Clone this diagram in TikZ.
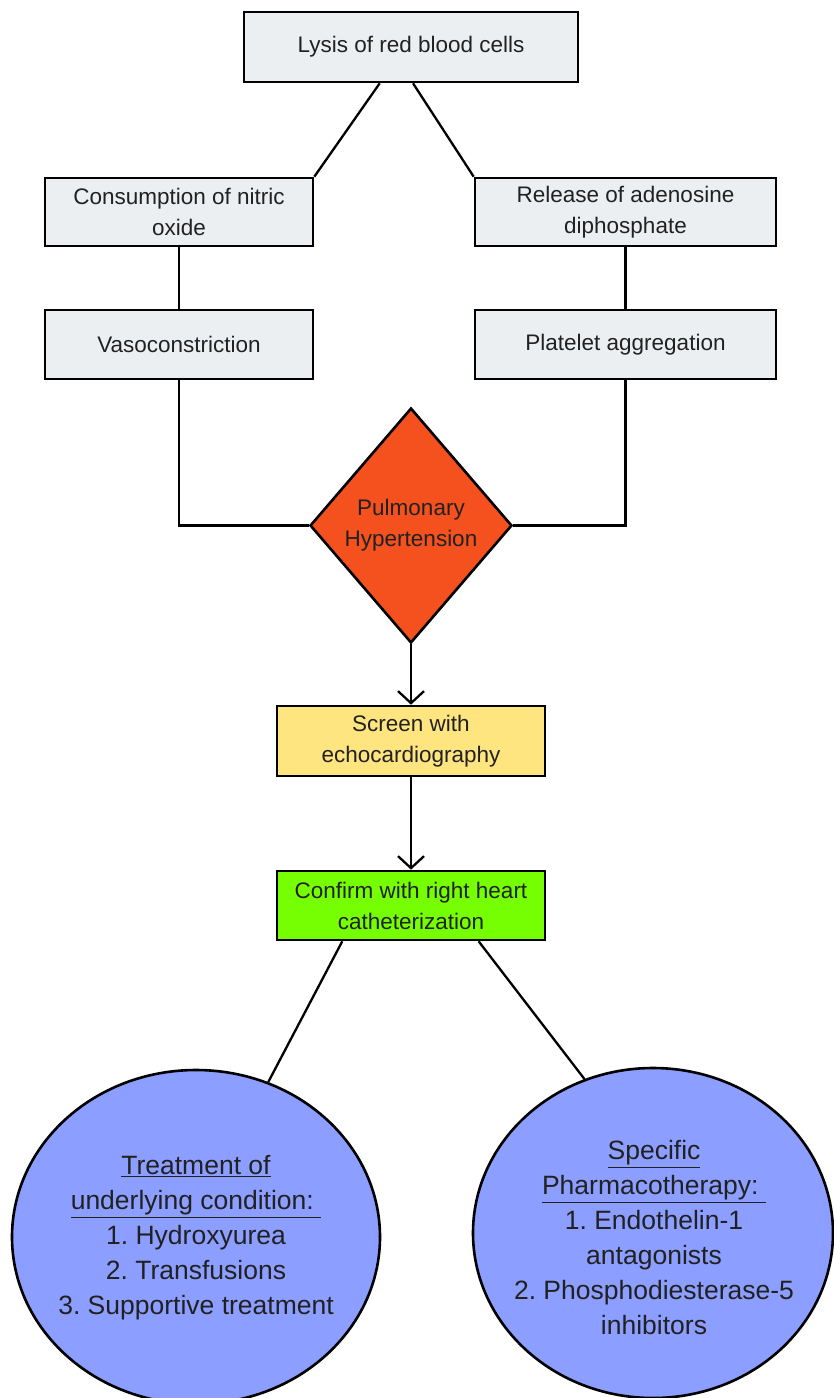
\documentclass[tikz,border=0pt]{standalone}
\usepackage{fontspec}
\setmainfont{Liberation Sans}
\usetikzlibrary{shapes.geometric,arrows.meta,calc}
\definecolor{boxgray}{HTML}{ECEFF1}
\definecolor{phorange}{HTML}{F4511E}
\definecolor{scryellow}{HTML}{FFE57F}
\definecolor{cfgreen}{HTML}{76FF03}
\definecolor{ellblue}{HTML}{8C9EFF}
\definecolor{txt}{HTML}{212121}
\frenchspacing
\tikzset{
  gbox/.style={draw=black, line width=2.6pt, fill=boxgray, inner sep=0pt, align=center,
    text=txt, font=\fontsize{22.5}{31}\selectfont},
  conn/.style={draw=black, line width=2.3pt},
  arr/.style={conn, -{Straight Barb[length=12pt,width=26pt,line width=2.3pt]}},
  ellshape/.style={draw=black, line width=2.6pt, fill=ellblue, shape=ellipse, inner sep=0pt},
  elltext/.style={inner sep=0pt, align=center, text=txt, font=\fontsize{26.5}{35}\selectfont}
}
\begin{document}
\begin{tikzpicture}[x=1pt,y=-1pt]
\useasboundingbox (0,0) rectangle (834,1398);
\clip (0,0) rectangle (834,1398);
\fill[white] (0,0) rectangle (834,1398);
% boxes
\node[gbox, minimum width=334pt, minimum height=70pt] (lysis) at (411,47) {Lysis of red blood cells};
\node[gbox, minimum width=268pt, minimum height=68pt] (no) at (179,212) {Consumption of nitric\\oxide};
\node[gbox, minimum width=301pt, minimum height=68pt] (adp) at (625.5,212) {Release of adenosine\\diphosphate};
\node[gbox, minimum width=268pt, minimum height=69pt] (vaso) at (179,344.5) {Vasoconstriction};
\node[gbox, minimum width=301pt, minimum height=69pt] (plt) at (625.5,344.5) {Platelet aggregation};
\node[gbox, shape=diamond, fill=phorange, minimum width=202pt, minimum height=235pt] (ph) at (411,525.5) {Pulmonary\\Hypertension};
\node[gbox, fill=scryellow, minimum width=268pt, minimum height=70pt] (scr) at (411,741) {Screen with\\echocardiography};
\node[gbox, fill=cfgreen, minimum width=268pt, minimum height=69pt] (cf) at (411,905.5) {Confirm with right heart\\catheterization};
\node[ellshape, minimum width=368pt, minimum height=334pt] (lell) at (196,1237) {};
\node[elltext] (ltxt) at (196,1238)
  {\underline{Treatment of}\\\underline{underlying condition:\ }\\1. Hydroxyurea\\2. Transfusions\\3. Supportive treatment};
\node[ellshape, minimum width=360pt, minimum height=330pt] (rell) at (653,1233) {};
\node[elltext] (rtxt) at (654,1238)
  {\underline{Specific}\\\underline{Pharmacotherapy:\ }\\1. Endothelin-1\\antagonists\\2. Phosphodiesterase-5\\inhibitors};
% connectors
\draw[conn] ($(lysis.south west)!0.407!(lysis.south east)$) -- (no.north east);
\draw[conn] ($(lysis.south west)!0.506!(lysis.south east)$) -- (adp.north west);
\draw[conn] (no.south) -- (vaso.north);
\draw[conn] (adp.south) -- (plt.north);
\draw[conn] (vaso.south) |- (ph.west);
\draw[conn] (plt.south) |- (ph.east);
\draw[arr] (ph.south) -- (scr.north);
\draw[arr] (scr.south) -- (cf.north);
\draw[conn] ($(cf.south west)!0.246!(cf.south east)$) -- (lell.65);
\draw[conn] ($(cf.south west)!0.75!(cf.south east)$) -- (rell.114);
\end{tikzpicture}
\end{document}
